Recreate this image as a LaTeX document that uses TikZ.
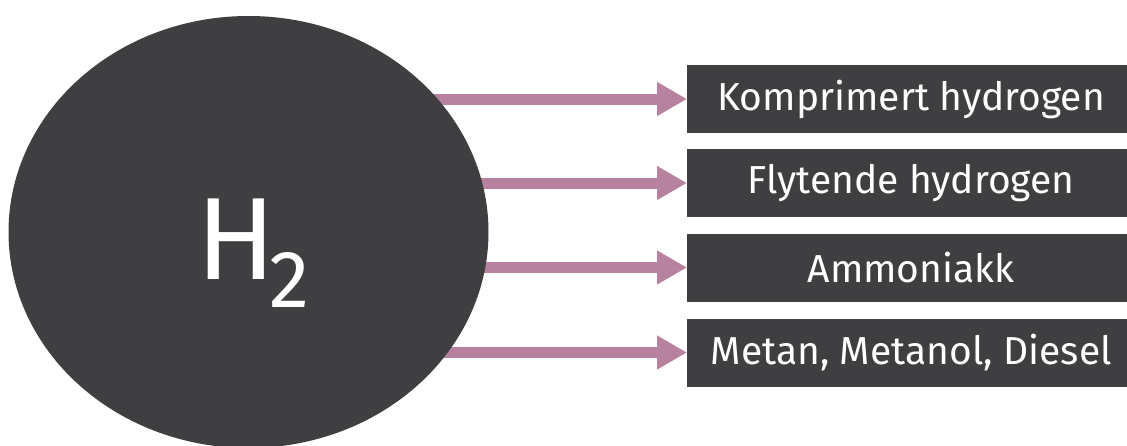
\documentclass[tikz,border=0pt]{standalone}
\usepackage{fontspec}
\setmainfont{Fira Sans}
\usetikzlibrary{shapes.geometric,arrows.meta,backgrounds}
\definecolor{darkfill}{HTML}{3F3F41}
\definecolor{flowpink}{HTML}{B7829F}
\tikzset{
  carrier/.style={draw=none,fill=darkfill,text=white,minimum width=448pt,minimum height=68pt,
    inner sep=0pt,anchor=west,font=\fontsize{39}{39}\selectfont},
  flow/.style={draw=flowpink,line width=11pt,-{Triangle[length=30pt,width=32pt]}}
}
\begin{document}
\begin{tikzpicture}[x=1pt,y=-1pt]
\useasboundingbox (0,0) rectangle (1127,445);
\node[ellipse,fill=darkfill,minimum width=480pt,minimum height=432pt,inner sep=0pt] (h2) at (248.5,232) {};
\node[text=white,anchor=base west,inner sep=0pt,font=\fontsize{117}{117}\selectfont] (h2label) at (196,279)
  {H\kern-6pt\raisebox{-28pt}{\fontsize{81}{81}\selectfont 2}};
\node[carrier] (komp) at (687,99) {Komprimert hydrogen};
\node[carrier] (flyt) at (687,183) {Flytende hydrogen};
\node[carrier] (ammo) at (687,267.5) {Ammoniakk};
\node[carrier] (meta) at (687,352.5) {Metan, Metanol, Diesel};
\begin{pgfonlayer}{background}
\draw[flow] (h2.center |- komp.west) -- (komp.west);
\draw[flow] (h2.center |- flyt.west) -- (flyt.west);
\draw[flow] (h2.center |- ammo.west) -- (ammo.west);
\draw[flow] (h2.center |- meta.west) -- (meta.west);
\end{pgfonlayer}
\end{tikzpicture}
\end{document}
